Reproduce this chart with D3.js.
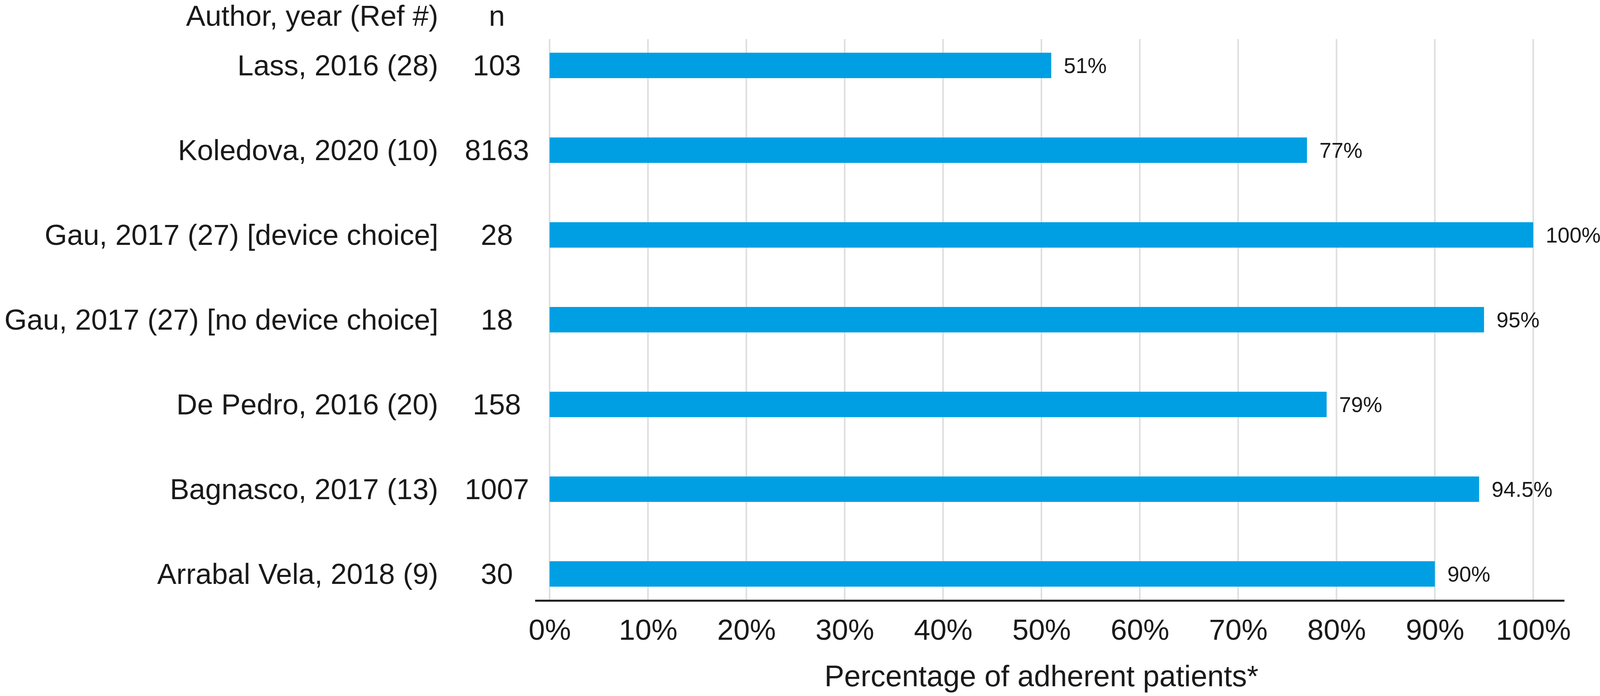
<!DOCTYPE html>
<html>
<head>
<meta charset="utf-8">
<script src="https://cdn.jsdelivr.net/npm/d3@7"></script>
<style>
  body { margin: 0; background: #fff; overflow: hidden; }
  svg { display: block; font-family: "Liberation Sans", Arial, sans-serif; }
</style>
</head>
<body>
<div id="chart"></div>
<script>
// Data
const studies = [
    'Lass, 2016 (28)',
    'Koledova, 2020 (10)',
    'Gau, 2017 (27) [device choice]',
    'Gau, 2017 (27) [no device choice]',
    'De Pedro, 2016 (20)',
    'Bagnasco, 2017 (13)',
    'Arrabal Vela, 2018 (9)'
];
const sampleSizes = ['103', '8163', '28', '18', '158', '1007', '30'];
const adherence = [51, 77, 100, 95, 79, 94.5, 90];
const valueLabels = ['51%', '77%', '100%', '95%', '79%', '94.5%', '90%'];
const xTicks = [0, 10, 20, 30, 40, 50, 60, 70, 80, 90, 100];

const W = 4114, H = 1782;
const plot = { left: 1407, right: 3925, top: 100, bottom: 1538 };

const svg = d3.select('#chart').append('svg')
    .attr('width', W)
    .attr('height', H);

const rows = studies.map((s, i) => ({
    study: s,
    n: sampleSizes[i],
    value: adherence[i],
    label: valueLabels[i]
}));

// Scales
const x = d3.scaleLinear()
    .domain([0, 100])
    .range([plot.left, plot.right]);

const y = d3.scaleBand()
    .domain(studies)
    .range([59, 1578])
    .paddingInner(0.7)
    .paddingOuter(0.35);

// Gridlines
svg.append('g')
    .attr('class', 'grid')
    .selectAll('line')
    .data(xTicks)
    .enter().append('line')
    .attr('x1', d => x(d))
    .attr('x2', d => x(d))
    .attr('y1', plot.top)
    .attr('y2', plot.bottom)
    .style('stroke', '#dedede')
    .style('stroke-width', 4);

// Bars
svg.append('g')
    .selectAll('rect')
    .data(rows)
    .enter().append('rect')
    .attr('x', x(0))
    .attr('y', d => y(d.study))
    .attr('width', d => x(d.value) - x(0))
    .attr('height', y.bandwidth())
    .style('fill', '#009fe3');

// Value labels
svg.append('g')
    .selectAll('text')
    .data(rows)
    .enter().append('text')
    .attr('x', d => x(d.value) + 32)
    .attr('y', d => y(d.study) + y.bandwidth() / 2)
    .attr('dy', '0.35em')
    .style('font-size', '55px')
    .style('fill', '#1a1a1a')
    .text(d => d.label);

// Row labels: study and n
const labels = svg.append('g')
    .style('font-size', '74px')
    .style('fill', '#1a1a1a');

labels.selectAll('.study')
    .data(rows)
    .enter().append('text')
    .attr('class', 'study')
    .attr('x', 1122)
    .attr('y', d => y(d.study) + y.bandwidth() / 2)
    .attr('dy', '0.35em')
    .attr('text-anchor', 'end')
    .text(d => d.study);

labels.selectAll('.n')
    .data(rows)
    .enter().append('text')
    .attr('class', 'n')
    .attr('x', 1272)
    .attr('y', d => y(d.study) + y.bandwidth() / 2)
    .attr('dy', '0.35em')
    .attr('text-anchor', 'middle')
    .text(d => d.n);

// Column headers
labels.append('text')
    .attr('x', 1122)
    .attr('y', 66)
    .attr('text-anchor', 'end')
    .text('Author, year (Ref #)');

labels.append('text')
    .attr('x', 1272)
    .attr('y', 66)
    .attr('text-anchor', 'middle')
    .text('n');

// X axis (labels only, line drawn separately)
const xAxis = d3.axisBottom(x)
    .tickValues(xTicks)
    .tickSize(0)
    .tickPadding(0)
    .tickFormat(d => d + '%');

const axisG = svg.append('g')
    .attr('transform', `translate(0,${plot.bottom})`)
    .call(xAxis);

axisG.select('.domain').remove();
axisG.selectAll('text')
    .attr('y', 100)
    .attr('dy', 0)
    .style('font-family', '"Liberation Sans", Arial, sans-serif')
    .style('font-size', '75px')
    .style('fill', '#1a1a1a');

svg.append('line')
    .attr('x1', 1370)
    .attr('x2', 4005)
    .attr('y1', plot.bottom)
    .attr('y2', plot.bottom)
    .style('stroke', '#1a1a1a')
    .style('stroke-width', 5);

// Axis title
svg.append('text')
    .attr('x', (plot.left + plot.right) / 2)
    .attr('y', 1757)
    .attr('text-anchor', 'middle')
    .style('font-size', '76px')
    .style('fill', '#1a1a1a')
    .text('Percentage of adherent patients*');
</script>
</body>
</html>
